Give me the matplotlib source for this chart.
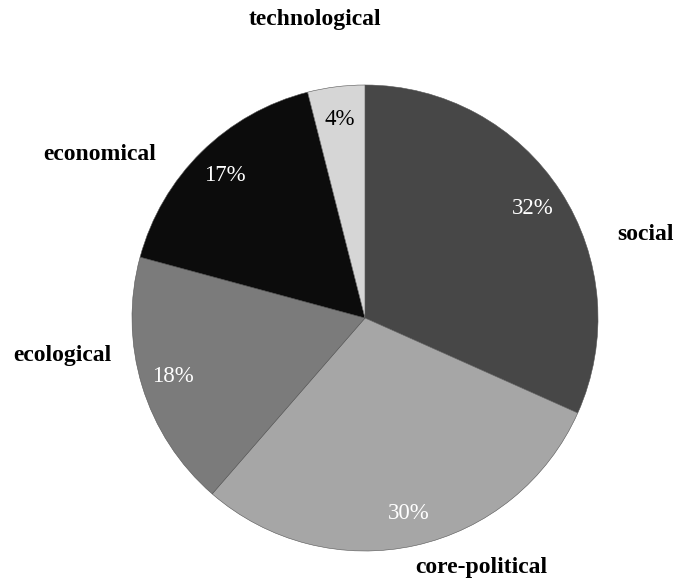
import matplotlib.pyplot as plt

categories = ['social', 'core-political', 'ecological', 'economical', 'technological']
shares = [32, 30, 18, 17, 4]
colors = ['#474747', '#a6a6a6', '#7b7b7b', '#0c0c0c', '#d6d6d6']
pct_colors = ['white', 'white', 'white', 'white', 'black']

W, H = 678, 581
fig = plt.figure(figsize=(W / 100, H / 100), dpi=100)
ax = fig.add_axes([0, 0, 1, 1])

wedges, texts, autotexts = ax.pie(
    shares, colors=colors, startangle=90, counterclock=False,
    center=(365, H - 318), radius=233, autopct='%d%%', pctdistance=0.86,
    wedgeprops=dict(edgecolor='#555555', linewidth=0.4),
    textprops=dict(family='Liberation Serif', fontsize=16.5))
for t, c in zip(autotexts, pct_colors):
    t.set_color(c)
for t, s in zip(autotexts, shares):
    t.set_text(f'{s}%')

# pie() resets the limits, so set pixel-like limits afterwards
ax.set_xlim(0, W)
ax.set_ylim(0, H)
ax.set_aspect('equal')
ax.axis('off')

# category names placed around the pie
label_pos = {
    'social': (646, 235),
    'core-political': (481, 568),
    'ecological': (62, 355),
    'economical': (100, 155),
    'technological': (315, 20),
}
for name in categories:
    x, y = label_pos[name]
    ax.text(x, H - y, name, ha='center', va='center', family='Liberation Serif',
            fontweight='bold', fontsize=17)

plt.savefig('out.png', dpi=100)
